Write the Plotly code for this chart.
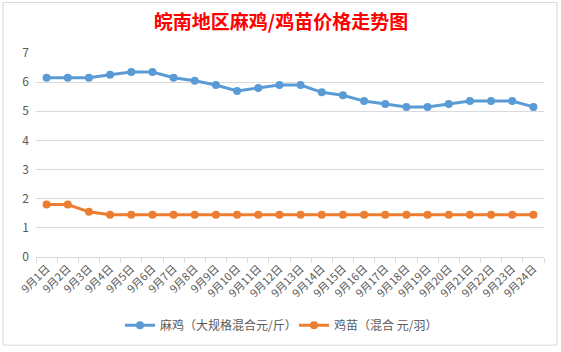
import plotly.graph_objects as go

dates = [f"9月{i}日" for i in range(1, 25)]
majie = [6.15, 6.15, 6.15, 6.25, 6.35, 6.35, 6.15, 6.05, 5.9, 5.7, 5.8, 5.9,
         5.9, 5.65, 5.55, 5.35, 5.25, 5.15, 5.15, 5.25, 5.35, 5.35, 5.35, 5.15]
jimiao = [1.8, 1.8, 1.55, 1.45, 1.45, 1.45, 1.45, 1.45, 1.45, 1.45, 1.45, 1.45,
          1.45, 1.45, 1.45, 1.45, 1.45, 1.45, 1.45, 1.45, 1.45, 1.45, 1.45, 1.45]
name1 = "麻鸡（大规格混合元/斤）"
name2 = "鸡苗（混合 元/羽）"
title = "皖南地区麻鸡/鸡苗价格走势图"

W, H = 561, 352
L, R, T, B = 36, 17, 53, 93
pw, ph = W - L - R, H - T - B

def px_x(p):
    return (p - L) / pw

def px_y(p):
    return (H - B - p) / ph

fig = go.Figure()
fig.add_trace(go.Scatter(x=dates, y=majie, name=name1, mode="lines+markers",
                         line=dict(color="#5B9BD5", width=3),
                         marker=dict(size=8, color="#5B9BD5")))
fig.add_trace(go.Scatter(x=dates, y=jimiao, name=name2, mode="lines+markers",
                         line=dict(color="#ED7D31", width=3),
                         marker=dict(size=8, color="#ED7D31")))

font_family = "Noto Sans CJK SC, Microsoft YaHei, sans-serif"
fig.update_layout(
    width=W, height=H,
    margin=dict(l=L, r=R, t=T, b=B),
    paper_bgcolor="white", plot_bgcolor="white",
    font=dict(family=font_family, color="#595959", size=11),
    title=dict(text=title, x=281 / W, xref="container", xanchor="center",
               y=1 - 22 / H, yanchor="middle",
               font=dict(family=font_family, size=19, color="#FF0000", weight="bold")),
    showlegend=True,
    legend=dict(orientation="h", x=px_x(120), xanchor="left", xref="paper",
                y=px_y(328), yanchor="middle", font=dict(size=12, color="#595959"),
                itemwidth=30, traceorder="normal",
                entrywidth=129, entrywidthmode="pixels"),
    xaxis=dict(type="category", tickangle=-45, showgrid=False,
               showline=True, linecolor="#D9D9D9", linewidth=1,
               ticks="outside", tickson="boundaries", ticklen=5, tickcolor="#D9D9D9",
               tickfont=dict(size=11, color="#595959"), range=[-0.5, 23.5]),
    yaxis=dict(range=[0, 7], dtick=1, showgrid=True, gridcolor="#D9D9D9", gridwidth=1,
               zeroline=False, showline=False, ticks="", ticklabelstandoff=6,
               tickfont=dict(size=12, color="#595959")),
    shapes=[dict(type="rect", xref="paper", yref="paper",
                 x0=px_x(3), x1=px_x(557), y0=px_y(348), y1=px_y(2),
                 line=dict(color="#D9D9D9", width=1), layer="below")],
)

fig.write_html("out.html")
